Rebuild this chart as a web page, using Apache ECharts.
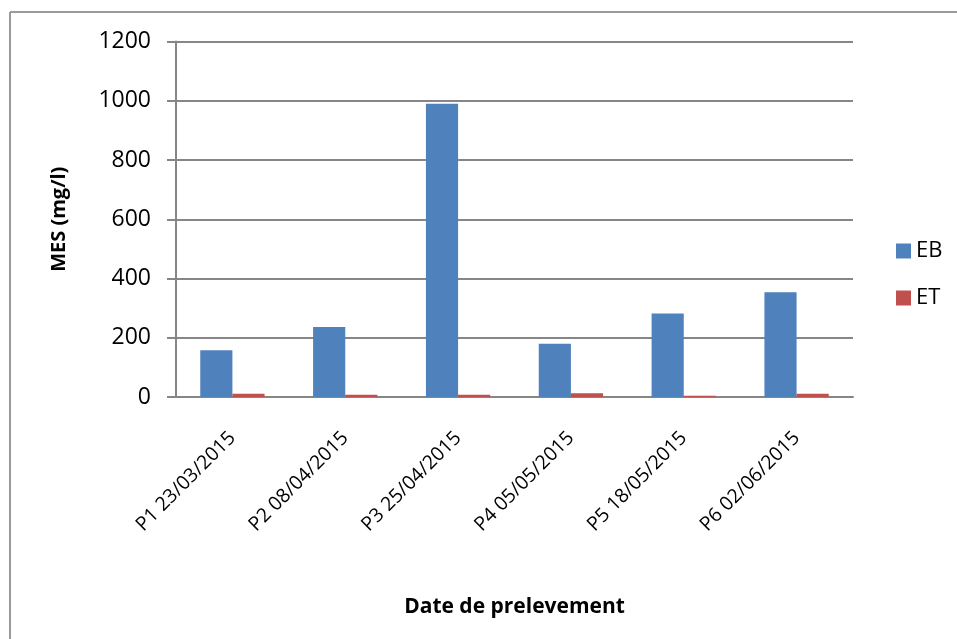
<!DOCTYPE html>
<html>
<head>
<meta charset="utf-8">
<script src="https://cdn.jsdelivr.net/npm/echarts@6/dist/echarts.min.js"></script>
<style>html,body{margin:0;padding:0;background:#fff}#c{width:957px;height:639px}</style>
</head>
<body>
<div id="c"></div>
<script>
const categories = ['P1 23/03/2015','P2 08/04/2015','P3 25/04/2015','P4 05/05/2015','P5 18/05/2015','P6 02/06/2015'];
const seriesEB = [158, 236, 990, 180, 282, 354];
const seriesET = [11, 8, 8, 13, 4, 11];
const seriesNames = ['EB', 'ET'];
const yTicks = {min: 0, max: 1200, interval: 200};

const FONT = 'Open Sans';
const chart = echarts.init(document.getElementById('c'));
chart.setOption({
  animation: false,
  backgroundColor: '#fff',
  textStyle: {fontFamily: FONT},
  graphic: [
    {type: 'line', shape: {x1: 10, y1: 12, x2: 957, y2: 12}, style: {stroke: '#9a9a9a', lineWidth: 2}},
    {type: 'line', shape: {x1: 10, y1: 12, x2: 10, y2: 639}, style: {stroke: '#9a9a9a', lineWidth: 2}}
  ],
  grid: {left: 176, right: 104, top: 41.5, bottom: 242, containLabel: false},
  legend: {
    orient: 'vertical', left: 891, top: 235, itemWidth: 15, itemHeight: 15, itemGap: 25,
    icon: 'rect',
    textStyle: {fontFamily: FONT, fontSize: 22, color: '#000', padding: [0,0,0,0]},
    data: seriesNames
  },
  xAxis: {
    type: 'category', data: categories,
    name: 'Date de prelevement', nameLocation: 'middle', nameGap: 200,
    nameTextStyle: {fontFamily: FONT, fontSize: 21, fontWeight: 'bold', color: '#000'},
    axisLine: {show: true, lineStyle: {color: '#868686', width: 2}},
    axisTick: {show: false},
    axisLabel: {rotate: 45, fontSize: 19.5, color: '#000', margin: 38, interval: 0}
  },
  yAxis: {
    type: 'value', min: yTicks.min, max: yTicks.max, interval: yTicks.interval,
    name: 'MES (mg/l)', nameLocation: 'middle', nameGap: 107,
    nameTextStyle: {fontFamily: FONT, fontSize: 20, fontWeight: 'bold', color: '#000'},
    axisLine: {show: true, lineStyle: {color: '#868686', width: 2}},
    axisTick: {show: true, inside: false, length: 9, lineStyle: {color: '#868686', width: 2}},
    axisLabel: {fontSize: 23, color: '#000', margin: 25, formatter: v => String(v)},
    splitLine: {show: true, lineStyle: {color: '#868686', width: 2}}
  },
  series: [
    {name: seriesNames[0], type: 'bar', data: seriesEB, barGap: '0%', barCategoryGap: '43%',
     itemStyle: {color: '#4F81BD'}},
    {name: seriesNames[1], type: 'bar', data: seriesET, barGap: '0%', barCategoryGap: '43%',
     itemStyle: {color: '#C0504D'}}
  ]
});
</script>
</body>
</html>
